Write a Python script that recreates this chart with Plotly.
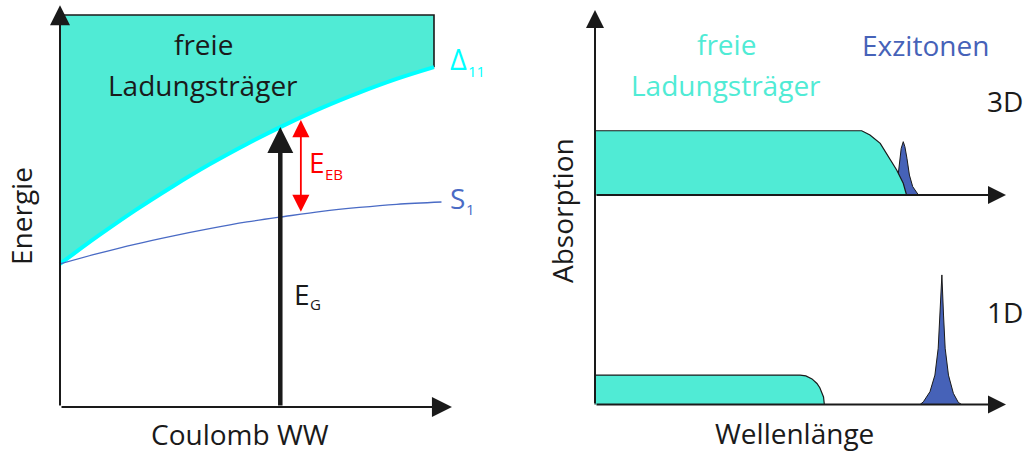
import plotly.graph_objects as go

# ---------------- data (schematic values) ----------------
# left panel: energy vs. Coulomb interaction
coulomb = [0.0, 0.1, 0.2, 0.3, 0.4, 0.5, 0.6, 0.7, 0.8, 0.9, 1.0]
delta11 = [0.365, 0.435, 0.501, 0.562, 0.619, 0.671, 0.719, 0.763, 0.802, 0.837, 0.867]
s1_coulomb = [0.0, 0.1, 0.2, 0.3, 0.4, 0.5, 0.6, 0.7, 0.8, 0.9, 1.02]
s1_energy = [0.365, 0.391, 0.415, 0.436, 0.455, 0.472, 0.486, 0.499, 0.509, 0.517, 0.523]
fill_top = 1.0
eg_x, eg_top = 0.589, 0.714
eb_x, eb_top, eb_bottom = 0.644, 0.732, 0.494

# right panel: absorption vs. wavelength (3D and 1D)
w3_free = [0.0, 0.0, 0.649, 0.669, 0.694, 0.714, 0.734, 0.750, 0.758]
a3_free = [0.0, 0.306, 0.306, 0.286, 0.246, 0.182, 0.119, 0.056, 0.0]
w3_exc = [0.732, 0.738, 0.740, 0.745, 0.750, 0.754, 0.759, 0.765, 0.773, 0.783, 0.787]
a3_exc = [0.0, 0.111, 0.159, 0.222, 0.254, 0.230, 0.175, 0.095, 0.040, 0.008, 0.0]
w1_free = [0.0, 0.0, 0.499, 0.513, 0.528, 0.540, 0.547, 0.552, 0.556, 0.558]
a1_free = [0.0, 0.140, 0.140, 0.136, 0.122, 0.100, 0.080, 0.060, 0.036, 0.0]
w1_exc = [0.791, 0.799, 0.815, 0.827, 0.835, 0.839, 0.844, 0.848, 0.852, 0.860, 0.872, 0.884, 0.892]
a1_exc = [0.0, 0.013, 0.061, 0.140, 0.268, 0.426, 0.617, 0.426, 0.268, 0.140, 0.053, 0.010, 0.0]

# ---------------- styling ----------------
W, H = 1026, 454
FONT = "Open Sans"
TEAL = "#50ebd5"
CYAN = "#00ffff"
BLUE = "#4662b8"
S1BLUE = "#4a6bc5"
RED = "#ff0000"
FS = 28


def xr(px0, px1):
    # axis range so that value 0 sits at px0 and value 1 at px1
    b = px1 - px0
    return [-px0 / b, (W - px0) / b]


def yr(py0, py1):
    b = py0 - py1
    return [(py0 - H) / b, py0 / b]


def px(x):
    return x / W


def py(y):
    return 1 - y / H


fig = go.Figure()

# left panel
fig.add_trace(go.Scatter(x=coulomb + [coulomb[-1], coulomb[0]],
                         y=delta11 + [fill_top, fill_top],
                         fill="toself", fillcolor=TEAL, mode="lines",
                         line=dict(width=0), hoverinfo="skip"))
fig.add_trace(go.Scatter(x=[coulomb[0], coulomb[-1], coulomb[-1]],
                         y=[fill_top, fill_top, delta11[-1]],
                         mode="lines", line=dict(color="#1a1a1a", width=1.6)))
fig.add_trace(go.Scatter(x=coulomb, y=delta11, mode="lines", line_shape="spline",
                         line=dict(color=CYAN, width=4)))
fig.add_trace(go.Scatter(x=s1_coulomb, y=s1_energy, mode="lines", line_shape="spline",
                         line=dict(color=S1BLUE, width=1.3)))

# right panel
fig.add_trace(go.Scatter(x=w3_exc, y=a3_exc, xaxis="x2", yaxis="y3", fill="toself",
                         fillcolor=BLUE, mode="lines", line=dict(color="#1a1a1a", width=1)))
fig.add_trace(go.Scatter(x=w3_free, y=a3_free, xaxis="x2", yaxis="y3", fill="toself",
                         fillcolor=TEAL, mode="lines", line=dict(color="#1a1a1a", width=1.2)))
fig.add_trace(go.Scatter(x=w1_free, y=a1_free, xaxis="x2", yaxis="y2", fill="toself",
                         fillcolor=TEAL, mode="lines", line=dict(color="#1a1a1a", width=1.2)))
fig.add_trace(go.Scatter(x=w1_exc, y=a1_exc, xaxis="x2", yaxis="y2", fill="toself",
                         fillcolor=BLUE, mode="lines", line=dict(color="#1a1a1a", width=1)))

ann = []


def arrow(x, y, ax, ay, xref, yref, color="#1a1a1a", width=2, size=1.0, both=False):
    d = dict(x=x, y=y, ax=ax, ay=ay, xref=xref, yref=yref, axref=xref, ayref=yref,
             text="", showarrow=True, arrowhead=2, arrowsize=size, arrowwidth=width,
             arrowcolor=color, standoff=0, startstandoff=0)
    if both:
        d.update(arrowside="end+start", startarrowhead=2, startarrowsize=size)
    ann.append(d)


# axes of left panel
arrow(1.048, 0, 0, 0, "x", "y", width=2, size=2.0)
arrow(0, 1.025, 0, 0, "x", "y", width=2, size=2.0)
# E_G arrow and E_EB double arrow
arrow(eg_x, eg_top, eg_x, 0, "x", "y", width=4.5, size=1.15)
arrow(eb_x, eb_top, eb_x, eb_bottom, "x", "y", color=RED, width=1.8, size=1.9, both=True)
# axes of right panel
arrow(1.0, 0, 0, 0, "x2", "y3", width=2, size=1.8)
arrow(1.0, 0, 0, 0, "x2", "y2", width=2, size=1.8)
arrow(0, 1.879, 0, 0, "x2", "y2", width=2, size=1.8)


def text(t, x, y, size=FS, color="#1a1a1a", xanchor="center", angle=0, yanchor="middle"):
    ann.append(dict(text=t, x=px(x), y=py(y), xref="paper", yref="paper",
                    showarrow=False, xanchor=xanchor, yanchor=yanchor, textangle=angle,
                    font=dict(family=FONT, size=size, color=color)))


def tb(t, x, base, size=FS, color="#1a1a1a", xanchor="center"):
    # place text by its baseline (pixels)
    text(t, x, base - 0.388 * size, size, color, xanchor)


# left labels
tb("freie", 203, 55)
tb("Ladungsträger", 203, 96)
text("Energie", 21, 216, angle=-90)
tb("Coulomb WW", 240, 445)
tb("Δ", 448, 70, size=29, color=CYAN, xanchor="left")
tb("11", 466, 77, size=15, color=CYAN, xanchor="left")
tb("S", 448, 209, color=S1BLUE, xanchor="left")
tb("1", 464, 215, size=15, color=S1BLUE, xanchor="left")
tb("E", 307, 173, color=RED, xanchor="left")
tb("EB", 323, 180, size=15, color=RED, xanchor="left")
tb("E", 292, 305, xanchor="left")
tb("G", 308, 310, size=15, xanchor="left")

# right labels
tb("freie", 726, 55, color=TEAL)
tb("Ladungsträger", 726, 96, color=TEAL)
tb("Exzitonen", 925, 56, color=BLUE)
tb("3D", 985, 112, xanchor="left")
tb("1D", 985, 323, xanchor="left")
text("Absorption", 562, 211, angle=-90)
tb("Wellenlänge", 794, 444)

fig.update_layout(
    width=W, height=H, margin=dict(l=0, r=0, t=0, b=0),
    paper_bgcolor="white", plot_bgcolor="white", showlegend=False,
    xaxis=dict(range=xr(60, 434), visible=False, domain=[0, 1], fixedrange=True),
    yaxis=dict(range=yr(407, 15), visible=False, domain=[0, 1], fixedrange=True),
    xaxis2=dict(range=xr(595, 1006), visible=False, overlaying="x", anchor="y2", fixedrange=True),
    yaxis2=dict(range=yr(404.5, 194.5), visible=False, overlaying="y", anchor="x2", fixedrange=True),
    yaxis3=dict(range=yr(195, -15), visible=False, overlaying="y", anchor="x2", fixedrange=True),
    annotations=ann,
)

fig.write_html("out.html", config={"displayModeBar": False},
               post_script="document.body.style.margin='0';document.body.style.overflow='hidden';")
